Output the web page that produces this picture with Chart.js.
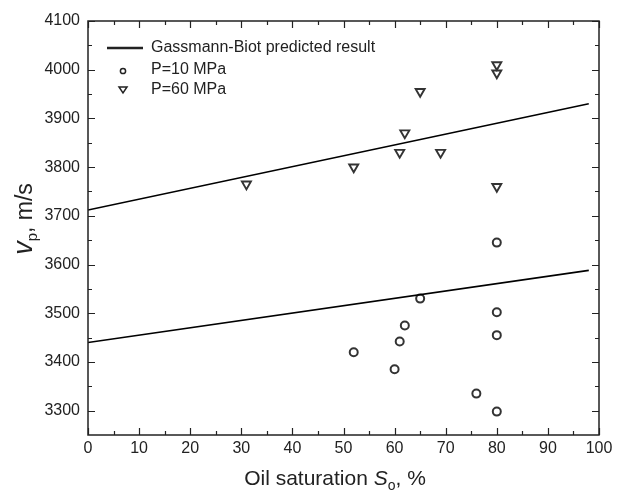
<!DOCTYPE html>
<html>
<head>
<meta charset="utf-8">
<script src="https://cdn.jsdelivr.net/npm/chart.js@4"></script>
<style>
html,body{margin:0;padding:0;background:#fff;}
#wrap{width:618px;height:492px;}
</style>
</head>
<body>
<div id="wrap"><canvas id="c" width="618" height="492"></canvas></div>
<script>
// ---- data ----
const sat10 = [52, 60, 61, 62, 65, 76, 80, 80, 80, 80];
const vp10  = [3420, 3385, 3442, 3475, 3530, 3335, 3645, 3502, 3455, 3298];
const sat60 = [31, 52, 61, 62, 65, 69, 80, 80, 80];
const vp60  = [3765, 3800, 3830, 3870, 3955, 3830, 4010, 3993, 3760];
const lineSat = [0, 98];
const lineHigh = [3712, 3930];   // Gassmann-Biot, 60 MPa
const lineLow  = [3440, 3588];   // Gassmann-Biot, 10 MPa
const xTicks = [0, 10, 20, 30, 40, 50, 60, 70, 80, 90, 100];
const yTicks = [3300, 3400, 3500, 3600, 3700, 3800, 3900, 4000, 4100];
const legendLabels = ['Gassmann-Biot predicted result', 'P=10 MPa', 'P=60 MPa'];

const FONT = "'Liberation Sans', Arial, sans-serif";
const INK = '#222';
const pts = (xs, ys) => xs.map((x, i) => ({x: x, y: ys[i]}));

const boxPlugin = {
  id: 'boxTicks',
  afterDraw(chart) {
    const ctx = chart.ctx, a = chart.chartArea;
    const xs = chart.scales.x, ys = chart.scales.y;
    ctx.save();
    ctx.strokeStyle = INK;
    ctx.lineWidth = 1.5;
    ctx.strokeRect(a.left, a.top, a.right - a.left, a.bottom - a.top);
    ctx.lineWidth = 1.2;
    ctx.beginPath();
    for (let v = xs.min; v <= xs.max; v += 5) {
      const p = Math.round(xs.getPixelForValue(v)) + 0.5;
      const len = (v % 10 === 0) ? 7 : 4;
      ctx.moveTo(p, a.bottom); ctx.lineTo(p, a.bottom - len);
      ctx.moveTo(p, a.top); ctx.lineTo(p, a.top + len);
    }
    for (let v = 3300; v <= ys.max; v += 50) {
      const p = Math.round(ys.getPixelForValue(v)) + 0.5;
      const len = (v % 100 === 0) ? 7 : 4;
      ctx.moveTo(a.left, p); ctx.lineTo(a.left + len, p);
      ctx.moveTo(a.right, p); ctx.lineTo(a.right - len, p);
    }
    ctx.stroke();

    // legend
    ctx.fillStyle = INK;
    ctx.font = '16px ' + FONT;
    ctx.textBaseline = 'middle';
    ctx.textAlign = 'left';
    const lx = 151, rows = [48, 70, 90];
    ctx.lineWidth = 2.5;
    ctx.beginPath(); ctx.moveTo(107, rows[0]); ctx.lineTo(143, rows[0]); ctx.stroke();
    ctx.lineWidth = 1.5;
    ctx.beginPath(); ctx.arc(123, rows[1] + 1, 2.6, 0, Math.PI * 2); ctx.stroke();
    ctx.beginPath();
    ctx.moveTo(119, rows[2] - 3); ctx.lineTo(127, rows[2] - 3); ctx.lineTo(123, rows[2] + 3); ctx.closePath(); ctx.stroke();
    legendLabels.forEach((t, i) => ctx.fillText(t, lx, rows[i]));

    // axis titles with subscripts
    ctx.textBaseline = 'alphabetic';
    const parts = [
      {t: 'Oil saturation ', f: '21px ' + FONT, dy: 0},
      {t: 'S', f: 'italic 21px ' + FONT, dy: 0},
      {t: 'o', f: '14px ' + FONT, dy: 5},
      {t: ', %', f: '21px ' + FONT, dy: 0}
    ];
    let w = 0;
    parts.forEach(p => { ctx.font = p.f; w += ctx.measureText(p.t).width; });
    let x0 = 335 - w / 2;
    const by = 485;
    parts.forEach(p => { ctx.font = p.f; ctx.fillText(p.t, x0, by + p.dy); x0 += ctx.measureText(p.t).width; });
    // y title
    const yparts = [
      {t: 'v', f: 'italic 27px ' + FONT, dy: 0},
      {t: 'p', f: '15px ' + FONT, dy: 5},
      {t: ', m/s', f: '23px ' + FONT, dy: 0}
    ];
    w = 0;
    yparts.forEach(p => { ctx.font = p.f; w += ctx.measureText(p.t).width; });
    ctx.translate(32, 219);
    ctx.rotate(-Math.PI / 2);
    x0 = -w / 2;
    yparts.forEach(p => { ctx.font = p.f; ctx.fillText(p.t, x0, p.dy); x0 += ctx.measureText(p.t).width; });
    ctx.restore();
  }
};

new Chart(document.getElementById('c'), {
  type: 'scatter',
  data: {
    datasets: [
      {type: 'line', label: legendLabels[0], data: pts(lineSat, lineHigh), borderColor: '#000', borderWidth: 1.6, pointRadius: 0, fill: false},
      {type: 'line', label: '', data: pts(lineSat, lineLow), borderColor: '#000', borderWidth: 1.6, pointRadius: 0, fill: false},
      {label: legendLabels[1], data: pts(sat10, vp10), pointStyle: 'circle', pointRadius: 4, borderColor: '#333', borderWidth: 2, backgroundColor: 'rgba(0,0,0,0)'},
      {label: legendLabels[2], data: pts(sat60, vp60), pointStyle: 'triangle', rotation: 180, pointRadius: 5.2, borderColor: '#333', borderWidth: 1.9, backgroundColor: 'rgba(0,0,0,0)'}
    ]
  },
  options: {
    responsive: false,
    animation: false,
    layout: {padding: {left: 0, top: 21, right: 19, bottom: 0}},
    plugins: {legend: {display: false}, tooltip: {enabled: false}},
    scales: {
      x: {
        type: 'linear', min: 0, max: 100,
        grid: {display: false, drawTicks: false}, border: {display: false},
        afterBuildTicks: s => { s.ticks = xTicks.map(v => ({value: v})); },
        afterFit: s => { s.height = 57; },
        ticks: {color: INK, font: {family: FONT, size: 16}, padding: 4, maxRotation: 0, autoSkip: false, callback: v => String(v)}
      },
      y: {
        type: 'linear', min: 3250, max: 4100,
        grid: {display: false, drawTicks: false}, border: {display: false},
        afterBuildTicks: s => { s.ticks = yTicks.map(v => ({value: v})); },
        afterFit: s => { s.width = 88; },
        ticks: {color: INK, font: {family: FONT, size: 16}, padding: 8, autoSkip: false, callback: v => String(v)}
      }
    }
  },
  plugins: [boxPlugin]
});
</script>
</body>
</html>
